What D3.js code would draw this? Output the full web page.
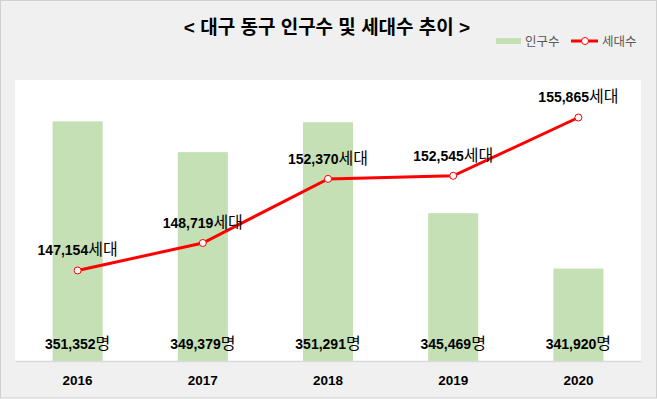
<!DOCTYPE html>
<html>
<head>
<meta charset="utf-8">
<script src="https://cdn.jsdelivr.net/npm/d3@7"></script>
<style>
  body { margin: 0; background: #fff; }
  text { font-family: "Liberation Sans", "Noto Sans CJK KR", sans-serif; }
</style>
</head>
<body>
<div id="chart-container"></div>
<script>
// Chart data
const years = ["2016", "2017", "2018", "2019", "2020"];
const population = [351352, 349379, 351291, 345469, 341920];
const households = [147154, 148719, 152370, 152545, 155865];

const W = 657, H = 399;
const plot = { left: 15, right: 641, top: 80, bottom: 361 };

const svg = d3.select("#chart-container")
  .append("svg")
  .attr("width", W)
  .attr("height", H);

// Chart background and border
svg.append("rect")
  .attr("x", 0.5).attr("y", 0.5)
  .attr("width", W - 1).attr("height", H - 1.5)
  .attr("fill", "#f0f0f0")
  .attr("stroke", "#d0d0d0");

// Plot area
svg.append("rect")
  .attr("x", plot.left).attr("y", plot.top)
  .attr("width", plot.right - plot.left)
  .attr("height", plot.bottom - plot.top)
  .attr("fill", "#ffffff");

// Scales
const x = d3.scaleBand().domain(years).range([plot.left, plot.right]).paddingInner(0.6).paddingOuter(0.3);
const yPop = d3.scaleLinear().domain([336000, 354000]).range([plot.bottom, plot.top]);
const yHh = d3.scaleLinear().domain([142000, 158000]).range([plot.bottom, plot.top]);

// Bars
svg.selectAll(".bar")
  .data(population)
  .enter().append("rect")
  .attr("class", "bar")
  .attr("x", (d, i) => x(years[i]))
  .attr("y", d => yPop(d))
  .attr("width", x.bandwidth())
  .attr("height", d => plot.bottom - yPop(d))
  .attr("fill", "#c5e0b4");

// X axis
const xAxis = svg.append("g")
  .attr("transform", `translate(0,${plot.bottom})`)
  .call(d3.axisBottom(x).tickSize(0).tickPadding(14));
xAxis.select(".domain").attr("stroke", "#d9d9d9").attr("stroke-width", 1.5);
xAxis.selectAll("text")
  .attr("font-size", 13.5)
  .attr("font-weight", "bold")
  .attr("fill", "#000")
  .style("font-family", "'Liberation Sans', sans-serif");

// Population labels
const popLabels = svg.selectAll(".pop-label")
  .data(population)
  .enter().append("text")
  .attr("class", "pop-label")
  .attr("x", (d, i) => x(years[i]) + x.bandwidth() / 2)
  .attr("y", 349)
  .attr("text-anchor", "middle")
  .attr("font-size", 14)
  .attr("fill", "#000");
popLabels.append("tspan").attr("font-weight", "bold").text(d => d3.format(",")(d));
popLabels.append("tspan").attr("font-size", 16).text("명");

// Household line
const cx = (d, i) => x(years[i]) + x.bandwidth() / 2;
const line = d3.line()
  .x(cx)
  .y(d => yHh(d));

svg.append("path")
  .datum(households)
  .attr("fill", "none")
  .attr("stroke", "#ff0000")
  .attr("stroke-width", 3)
  .attr("d", line);

svg.selectAll(".dot")
  .data(households)
  .enter().append("circle")
  .attr("class", "dot")
  .attr("cx", cx)
  .attr("cy", d => yHh(d))
  .attr("r", 3.5)
  .attr("fill", "#fff")
  .attr("stroke", "#ff0000")
  .attr("stroke-width", 1);

// Household labels
const hhLabels = svg.selectAll(".hh-label")
  .data(households)
  .enter().append("text")
  .attr("class", "hh-label")
  .attr("x", cx)
  .attr("y", d => yHh(d) - 15)
  .attr("text-anchor", "middle")
  .attr("font-size", 14)
  .attr("fill", "#000");
hhLabels.append("tspan").attr("font-weight", "bold").text(d => d3.format(",")(d));
hhLabels.append("tspan").attr("font-size", 16).text("세대");

// Title
svg.append("text")
  .attr("x", 327)
  .attr("y", 34)
  .attr("text-anchor", "middle")
  .attr("font-size", 19)
  .attr("font-weight", "bold")
  .attr("fill", "#000")
  .text("< 대구 동구 인구수 및 세대수 추이 >");

// Legend
const legend = svg.append("g");
legend.append("rect")
  .attr("x", 496).attr("y", 38)
  .attr("width", 25).attr("height", 6)
  .attr("fill", "#c5e0b4");
legend.append("text")
  .attr("x", 525).attr("y", 46)
  .attr("font-size", 12.5)
  .attr("fill", "#595959")
  .text("인구수");
legend.append("line")
  .attr("x1", 571).attr("x2", 598)
  .attr("y1", 41).attr("y2", 41)
  .attr("stroke", "#ff0000")
  .attr("stroke-width", 3);
legend.append("circle")
  .attr("cx", 585).attr("cy", 41).attr("r", 3.5)
  .attr("fill", "#fff")
  .attr("stroke", "#ff0000");
legend.append("text")
  .attr("x", 602).attr("y", 46)
  .attr("font-size", 12.5)
  .attr("fill", "#595959")
  .text("세대수");
</script>
</body>
</html>
